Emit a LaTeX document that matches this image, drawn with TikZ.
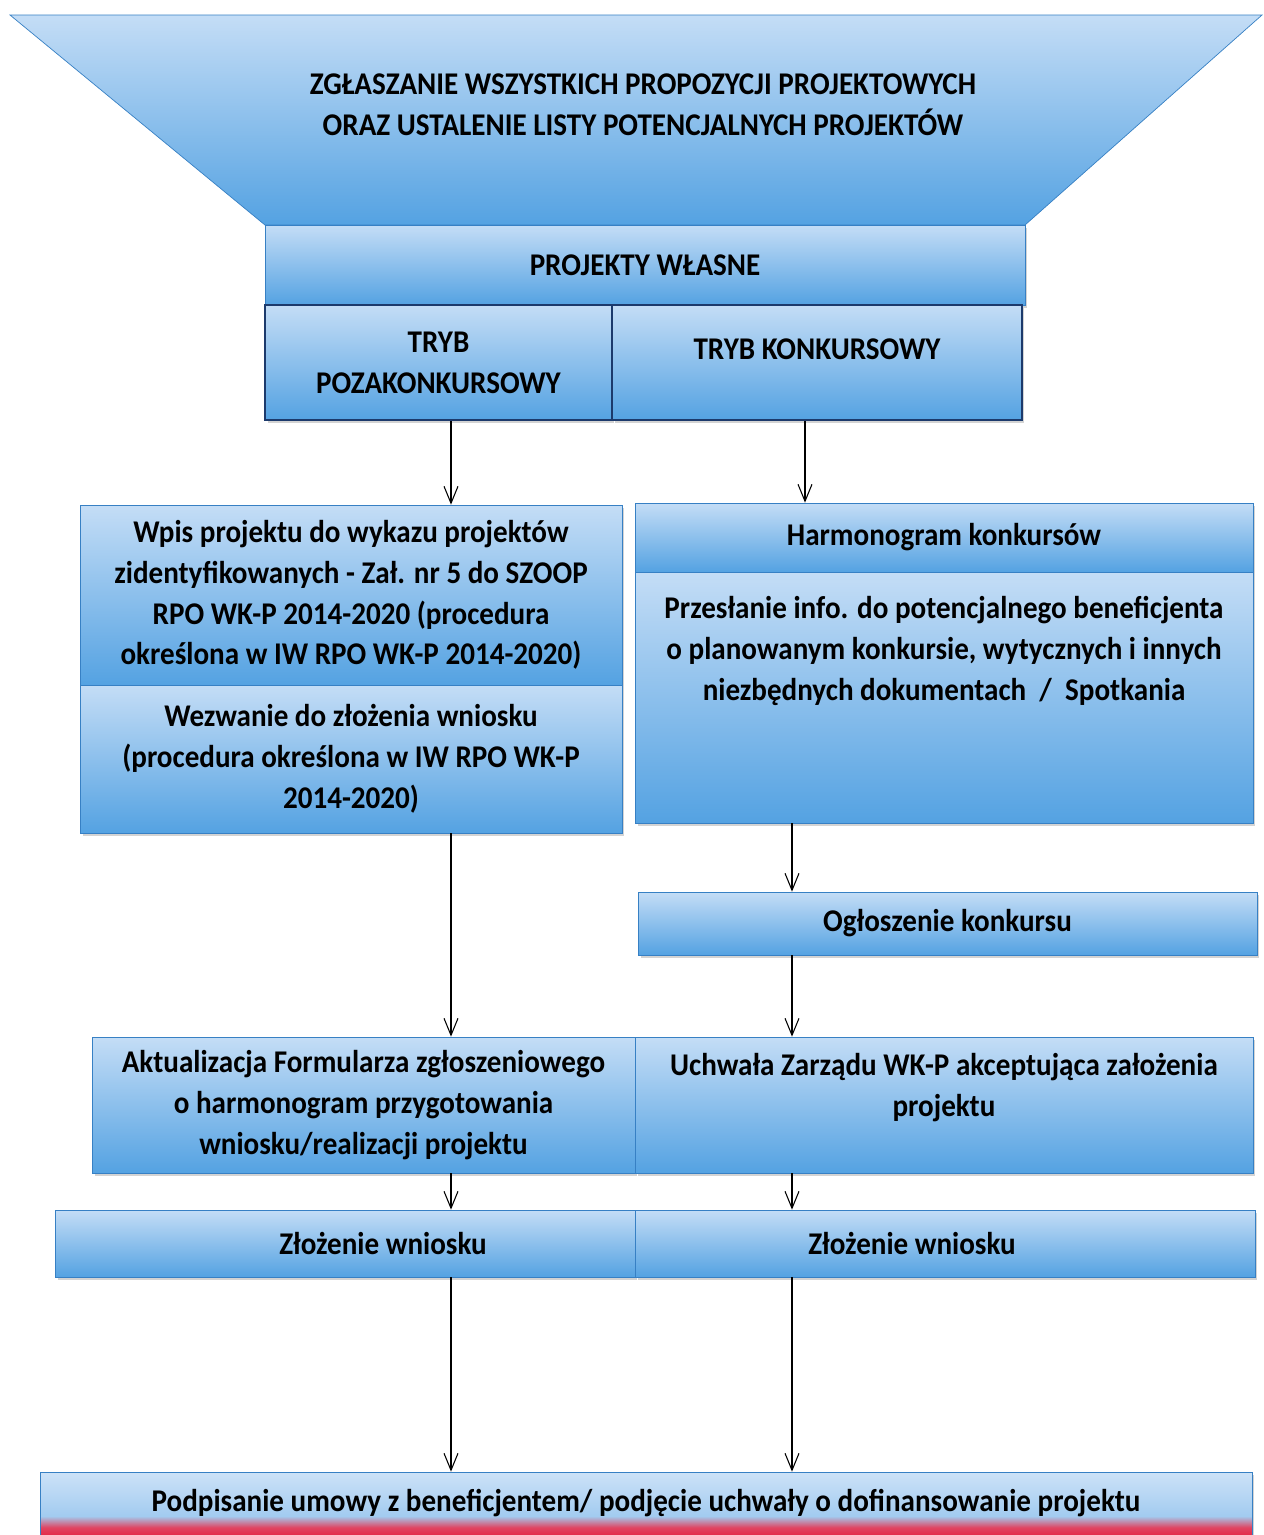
\documentclass[tikz,border=0pt]{standalone}
\usepackage{fontspec}
\setmainfont[FakeStretch=0.92]{Carlito}
\usetikzlibrary{arrows.meta,shadows,positioning}

\definecolor{boxlight}{RGB}{196,221,246}
\definecolor{boxdark}{RGB}{84,162,226}
\definecolor{boxline}{RGB}{55,128,196}
\definecolor{navy}{RGB}{28,58,108}
\definecolor{redend}{RGB}{228,42,72}

\pgfdeclareverticalshading{signshade}{100bp}{%
  color(0bp)=(redend); color(25bp)=(redend); color(31bp)=(redend!85!boxlight);
  color(40bp)=(boxlight!70!boxdark); color(75bp)=(boxlight!85!white);
  color(100bp)=(boxlight!85!white)}

\begin{document}
\begin{tikzpicture}[%
    x=0.02cm,
    y=-0.02cm,
    font=\bfseries\fontsize{18}{23.25}\selectfont,
    box/.style={
      rectangle,
      draw=boxline,
      thin,
      top color=boxlight,
      bottom color=boxdark,
      align=center,
      inner sep=0pt,
      drop shadow={shadow xshift=0.05cm, shadow yshift=-0.06cm, opacity=0.35}
    },
    trybbox/.style={
      box,
      draw=navy,
      line width=1.6pt
    },
    flow/.style={
      -{Straight Barb[length=3.4mm,width=2.8mm]},
      semithick
    },
  ]
    \useasboundingbox (0,0) rectangle (1264,1535);

    % funnel at the top
    \shade[top color=boxlight, bottom color=boxdark, draw=boxline, thin]
      (10,15) -- (1262,15) -- (1025,225) -- (265,225) -- cycle;
    \node[align=center] (zgl) at (643,105)
      {ZGŁASZANIE WSZYSTKICH PROPOZYCJI PROJEKTOWYCH\\ORAZ USTALENIE LISTY POTENCJALNYCH PROJEKTÓW};

    \node[box, minimum width=15.2cm, minimum height=1.6cm] (wlasne) at (645,265) {PROJEKTY WŁASNE};
    \node[trybbox, minimum width=6.94cm, minimum height=2.3cm] (tpoz) at (438.5,362.5) {TRYB\\POZAKONKURSOWY};
    \node[trybbox, minimum width=8.2cm, minimum height=2.3cm] (tkon) at (817,362.5) {TRYB KONKURSOWY\\[-8pt]\mbox{}};

    % columns of the arrows
    \coordinate (colL) at (451,0);
    \coordinate (colR) at (805,0);
    \coordinate (colR2) at (792,0);

    % left path
    \node[box, minimum width=10.84cm, minimum height=3.6cm] (wpis) at (351,595)
      {Wpis projektu do wykazu projektów\\zidentyfikowanych - Zał. nr 5 do SZOOP\\RPO WK-P 2014-2020 (procedura\\określona w IW RPO WK-P 2014-2020)};
    \node[box, minimum width=10.84cm, minimum height=2.96cm] (wezw) at (351,759)
      {Wezwanie do złożenia wniosku\\(procedura określona w IW RPO WK-P\\2014-2020)};

    % right path
    \node[box, minimum width=12.36cm, minimum height=1.38cm] (harm) at (944,537.5) {Harmonogram konkursów};
    \node[box, minimum width=12.36cm, minimum height=5.02cm] (przes) at (944,697.5)
      {Przesłanie info. do potencjalnego beneficjenta\\o planowanym konkursie, wytycznych i innych\\niezbędnych dokumentach~~/~~Spotkania\\[33pt]\mbox{}};
    \node[box, minimum width=12.38cm, minimum height=1.26cm] (ogl) at (947.5,923.5) {Ogłoszenie konkursu};

    \node[box, minimum width=10.86cm, minimum height=2.72cm] (aktu) at (363.5,1105)
      {Aktualizacja Formularza zgłoszeniowego\\o harmonogram przygotowania\\wniosku/realizacji projektu};
    \node[box, minimum width=12.36cm, minimum height=2.72cm] (uchw) at (944,1105)
      {Uchwała Zarządu WK-P akceptująca założenia\\projektu\\\mbox{}};

    \node[box, minimum width=11.6cm, minimum height=1.34cm] (zlozL) at (345,1243.5) {\hspace*{1.52cm}Złożenie wniosku};
    \node[box, minimum width=12.4cm, minimum height=1.34cm] (zlozR) at (945,1243.5) {Złożenie wniosku\hspace*{1.32cm}};

    \node[box, shading=signshade, minimum width=24.24cm, minimum height=1.26cm] (podp) at (646,1503.5)
      {Podpisanie umowy z beneficjentem/ podjęcie uchwały o dofinansowanie projektu};

    % arrows
    \draw[flow] (tpoz.south -| colL) -- (wpis.north -| colL);
    \draw[flow] (tkon.south -| colR) -- (harm.north -| colR);
    \draw[flow] (przes.south -| colR2) -- (ogl.north -| colR2);
    \draw[flow] (wezw.south -| colL) -- (aktu.north -| colL);
    \draw[flow] (ogl.south -| colR2) -- (uchw.north -| colR2);
    \draw[flow] (aktu.south -| colL) -- (zlozL.north -| colL);
    \draw[flow] (uchw.south -| colR2) -- (zlozR.north -| colR2);
    \draw[flow] (zlozL.south -| colL) -- (podp.north -| colL);
    \draw[flow] (zlozR.south -| colR2) -- (podp.north -| colR2);
  \end{tikzpicture}
\end{document}
